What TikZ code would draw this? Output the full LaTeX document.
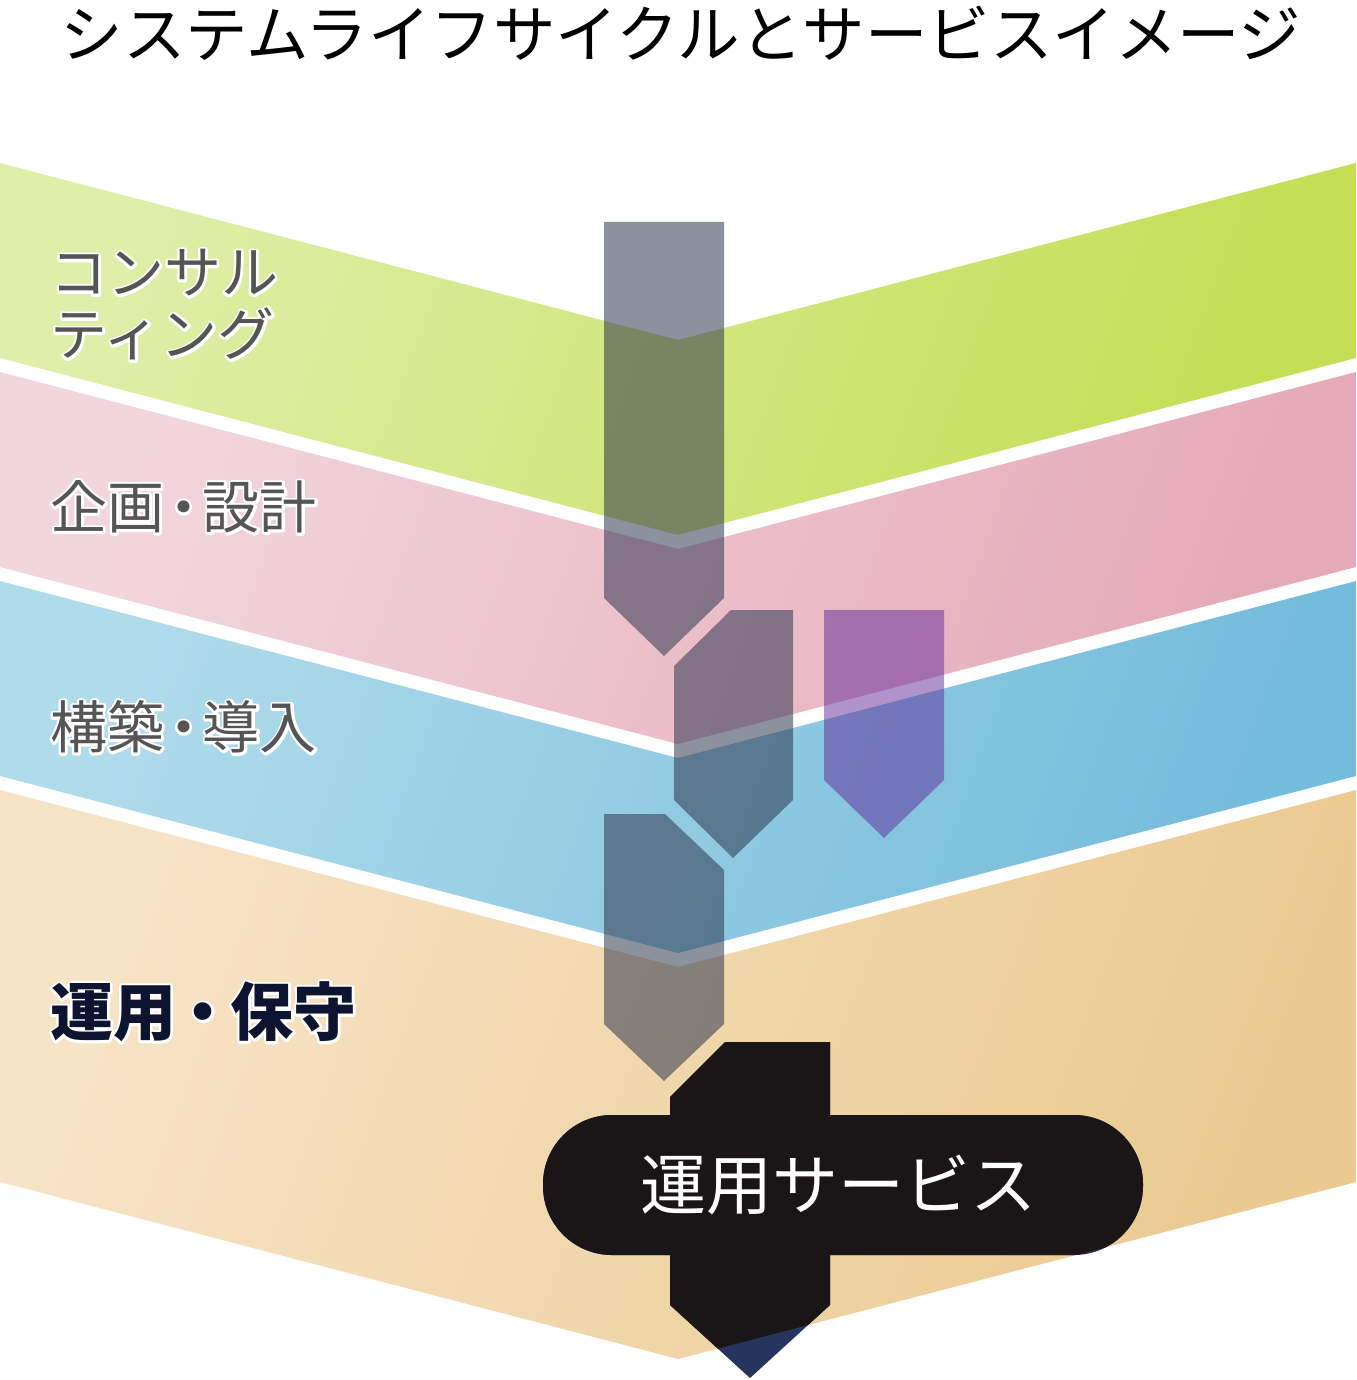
\documentclass[tikz,border=0pt]{standalone}
\usepackage{fontspec}
\usepackage{xcolor}
\usetikzlibrary{calc}
\setmainfont{Noto Sans CJK JP}

\definecolor{greenL}{RGB}{223,238,168}
\definecolor{greenR}{RGB}{197,222,86}
\definecolor{pinkL}{RGB}{242,214,222}
\definecolor{pinkR}{RGB}{229,170,184}
\definecolor{blueL}{RGB}{176,219,235}
\definecolor{blueR}{RGB}{116,188,219}
\definecolor{tanL}{RGB}{247,227,198}
\definecolor{tanR}{RGB}{235,202,145}
\definecolor{arrowgray}{RGB}{46,55,79}
\definecolor{arrowpurple}{RGB}{95,40,150}
\definecolor{servblack}{RGB}{26,22,23}
\definecolor{servnavy}{RGB}{39,53,94}
\definecolor{labelgray}{RGB}{85,85,85}
\definecolor{labelnavy}{RGB}{12,20,48}

% the service cross, filled with colour #1
\newcommand\servicecross[1]{%
  \path[fill=#1] (670,1097) -- (725,1042) -- (830,1042) -- (830,1305)
    -- (750,1378) -- (670,1305) -- cycle;
  \path[fill=#1, rounded corners=69pt] (543,1115) rectangle (1143,1255);
}
\newcommand\ndot[1]{\kern-#1em・\kern-#1em}

\begin{document}
\begin{tikzpicture}[x=1pt,y=-1pt,
  phase/.style={fill=arrowgray, fill opacity=0.55},
  phasepurple/.style={fill=arrowpurple, fill opacity=0.5},
  lbl/.style={anchor=west, inner sep=0pt, text=labelgray, align=left,
    font=\fontsize{57pt}{62pt}\selectfont},
  halo/.style={text=white,
    execute at begin node={\special{pdf:literal direct 1 Tr 5 w 1 j}},
    execute at end node={\special{pdf:literal direct 0 Tr}}}]
  \useasboundingbox (0,0) rectangle (1356,1380);

  % bands
  \foreach \t/\h/\cl/\cr in {163/195/greenL/greenR, 372/195/pinkL/pinkR,
                             581/195/blueL/blueR, 790/392/tanL/tanR}
    \path[left color=\cl, right color=\cr, shading angle=70]
      (0,\t) -- (678,\t+177) -- (1356,\t)
      -- (1356,\t+\h) -- (678,\t+\h+177) -- (0,\t+\h) -- cycle;

  % phase arrows
  \path[phase] (604,222) -- (724,222) -- (724,598) -- (664,656) -- (604,598) -- cycle;
  \path[phase] (674,666) -- (731,610) -- (793,610) -- (793,800) -- (733,858) -- (674,800) -- cycle;
  \path[phasepurple] (824,610) -- (944,610) -- (944,780) -- (884,838) -- (824,780) -- cycle;
  \path[phase] (604,814) -- (665,814) -- (724,870) -- (724,1024) -- (664,1081) -- (604,1024) -- cycle;

  % service
  \servicecross{servnavy}
  \begin{scope}
    \clip (0,790) -- (678,967) -- (1356,790) -- (1356,1182) -- (678,1359) -- (0,1182) -- cycle;
    \servicecross{servblack}
  \end{scope}

  % texts
  \node[anchor=center, inner sep=0pt, font=\fontsize{62.5pt}{64pt}\selectfont] (title)
    at (681,33) {システムライフサイクルとサービスイメージ};
  \node[lbl, halo] (consulthalo) at (50,305) {コンサル\\ティング};
  \node[lbl] (consult) at (50,305) {コンサル\\ティング};
  \node[lbl, halo] (planhalo) at (50,507) {企画\ndot{0.16}設計};
  \node[lbl] (plan) at (50,507) {企画\ndot{0.16}設計};
  \node[lbl, halo] (buildhalo) at (50,727) {構築\ndot{0.16}導入};
  \node[lbl] (build) at (50,727) {構築\ndot{0.16}導入};
  \node[lbl, halo, font=\fontsize{63pt}{63pt}\selectfont\bfseries] (operatehalo)
    at (50,1012) {運用\ndot{0.07}保守};
  \node[lbl, text=labelnavy, font=\fontsize{63pt}{63pt}\selectfont\bfseries] (operate)
    at (50,1012) {運用\ndot{0.07}保守};
  \node[inner sep=0pt, text=white, font=\fontsize{66pt}{66pt}\selectfont] (service)
    at (838,1185) {運用サービス};
\end{tikzpicture}
\end{document}
